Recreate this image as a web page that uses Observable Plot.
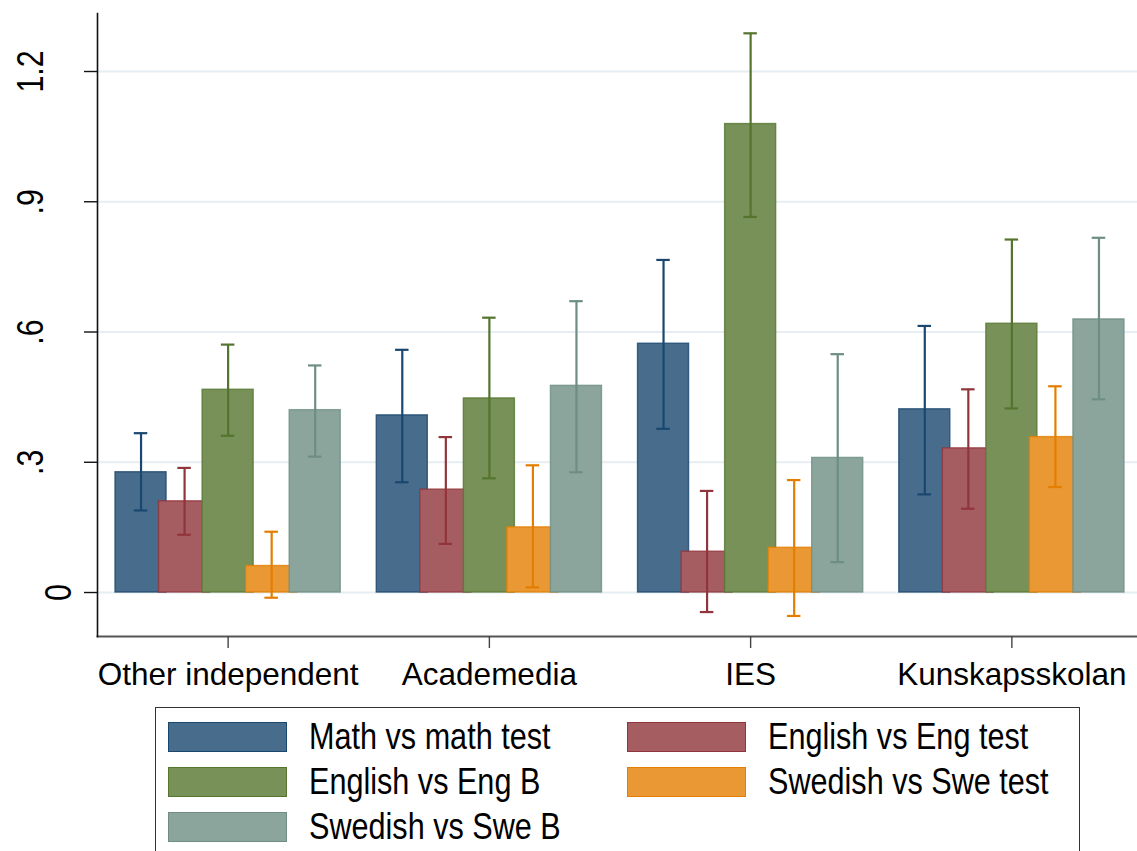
<!DOCTYPE html>
<html><head><meta charset="utf-8">
<script src="https://cdn.jsdelivr.net/npm/d3@7"></script>
<script src="https://cdn.jsdelivr.net/npm/@observablehq/plot@0.6"></script>
<style>
html,body{margin:0;padding:0;background:#fff;overflow:hidden;width:1137px;height:851px;}
#chart{position:absolute;left:0;top:0;}
#legend{position:absolute;left:155px;top:707px;width:925px;height:170px;border:1.5px solid #333;box-sizing:border-box;
  font-family:"Liberation Sans",Arial,sans-serif;font-size:36px;color:#000;}
.item{position:absolute;display:flex;align-items:center;height:32px;white-space:nowrap;}
.sw{width:119px;height:30px;border:1.5px solid;box-sizing:border-box;margin-right:22px;flex:none;}
.item span{display:inline-block;transform:scaleX(0.85);transform-origin:left center;}
</style></head><body>
<div id="chart"></div><div id="legend"></div>
<script>
// ---- data ----
const groups = ["Other independent", "Academedia", "IES", "Kunskapsskolan"];
const series = ["Math vs math test", "English vs Eng test", "English vs Eng B", "Swedish vs Swe test", "Swedish vs Swe B"];
const fillColors = ["#486c8c", "#a65d62", "#779159", "#e99833", "#8ba59d"];
const lineColors = ["#1a476f", "#90353b", "#55752f", "#e37e00", "#6e8e84"];

// point estimates per series (one value per group)
const estMath    = [0.277, 0.408, 0.573, 0.422];
const estEngTest = [0.210, 0.237, 0.094, 0.332];
const estEngB    = [0.467, 0.447, 1.079, 0.619];
const estSweTest = [0.061, 0.150, 0.103, 0.358];
const estSweB    = [0.420, 0.476, 0.310, 0.629];
// lower confidence bounds
const loMath    = [0.189, 0.254, 0.377, 0.226];
const loEngTest = [0.133, 0.112, -0.045, 0.193];
const loEngB    = [0.361, 0.263, 0.865, 0.424];
const loSweTest = [-0.012, 0.012, -0.054, 0.243];
const loSweB    = [0.313, 0.277, 0.070, 0.445];
// upper confidence bounds
const hiMath    = [0.367, 0.559, 0.766, 0.614];
const hiEngTest = [0.287, 0.358, 0.234, 0.468];
const hiEngB    = [0.571, 0.633, 1.288, 0.813];
const hiSweTest = [0.140, 0.293, 0.259, 0.475];
const hiSweB    = [0.523, 0.671, 0.549, 0.817];

const yTicks = [0, 0.3, 0.6, 0.9, 1.2];
const yTickLabels = ["0", ".3", ".6", ".9", "1.2"];

// ---- build table ----
const est = [estMath, estEngTest, estEngB, estSweTest, estSweB];
const lo = [loMath, loEngTest, loEngB, loSweTest, loSweB];
const hi = [hiMath, hiEngTest, hiEngB, hiSweTest, hiSweB];
const slots = series.length + 1;          // 5 bar slots + 1 gap per group
const data = [];
groups.forEach((g, gi) => {
  series.forEach((s, si) => {
    const pos = gi * slots + si + 1;
    data.push({group: g, series: s, si, pos, v: est[si][gi], lo: lo[si][gi], hi: hi[si][gi]});
  });
});
const groupCenters = groups.map((g, gi) => gi * slots + slots / 2);
const half = 0.586, cap = 0.155;
const labelOf = new Map(groupCenters.map((c, i) => [c, groups[i]]));
const yLab = yTicks.map((t, i) => ({t, label: yTickLabels[i]}));

const plot = Plot.plot({
  width: 1137, height: 700,
  marginLeft: 97, marginRight: -5, marginTop: 13, marginBottom: 64,
  style: {background: "#fff", fontFamily: "'Liberation Sans', Arial, sans-serif", color: "#000", overflow: "visible"},
  x: {type: "linear", domain: [0, groups.length * slots], axis: null, label: null},
  y: {domain: [-0.1013, 1.3336], axis: null, label: null},
  marks: [
    Plot.ruleY(yTicks, {stroke: "#e6eef1", strokeWidth: 2}),
    Plot.rectY(data, {x1: d => d.pos - half, x2: d => d.pos + half, y1: 0, y2: "v",
      fill: d => fillColors[d.si], stroke: d => lineColors[d.si], strokeWidth: 1.4, strokeOpacity: 0.8}),
    Plot.ruleX(data, {x: "pos", y1: "lo", y2: "hi", stroke: d => lineColors[d.si], strokeWidth: 2.2}),
    Plot.ruleY(data, {x1: d => d.pos - cap, x2: d => d.pos + cap, y: "hi", stroke: d => lineColors[d.si], strokeWidth: 2.2}),
    Plot.ruleY(data, {x1: d => d.pos - cap, x2: d => d.pos + cap, y: "lo", stroke: d => lineColors[d.si], strokeWidth: 2.2}),
    Plot.frame({anchor: "bottom", stroke: "#555", strokeWidth: 2}),
    Plot.frame({anchor: "left", stroke: "#111", strokeWidth: 1.6}),
    Plot.axisY({ticks: yTicks, tickSize: 13, tickFormat: () => "", stroke: "#111", strokeWidth: 1.4, label: null}),
    Plot.text(yLab.filter(d => d.t !== 0), {y: "t", text: "label", frameAnchor: "left", rotate: -90,
      textAnchor: "middle", lineAnchor: "bottom", dx: -55, fontSize: 37, fill: "#000", className: "ylab"}),
    Plot.text(yLab.filter(d => d.t === 0), {y: "t", text: "label", frameAnchor: "left", rotate: -90,
      textAnchor: "middle", lineAnchor: "bottom", dx: -27, fontSize: 37, fill: "#000", className: "ylab"}),
    Plot.axisX({ticks: groupCenters, tickFormat: d => labelOf.get(d), tickSize: 12, tickPadding: 14,
      fontSize: 31.5, stroke: "#444", strokeWidth: 1.4, fill: "#000", label: null})
  ]
});
// condense the rotated y tick labels along their reading direction
d3.select(plot).selectAll("g.ylab text").each(function() {
  const t = this.getAttribute("transform") || "";
  this.setAttribute("transform", t + " scale(0.82,1)");
});
document.getElementById("chart").appendChild(plot);

// ---- legend ----
const legend = document.getElementById("legend");
series.forEach((s, i) => {
  const col = i % 2, row = Math.floor(i / 2);
  const it = document.createElement("div");
  it.className = "item";
  it.style.left = (12 + col * 459) + "px";
  it.style.top = (13 + row * 45) + "px";
  const sw = document.createElement("div");
  sw.className = "sw";
  sw.style.background = fillColors[i];
  sw.style.borderColor = lineColors[i];
  const tx = document.createElement("span");
  tx.textContent = s;
  it.appendChild(sw); it.appendChild(tx);
  legend.appendChild(it);
});
</script>
</body></html>
